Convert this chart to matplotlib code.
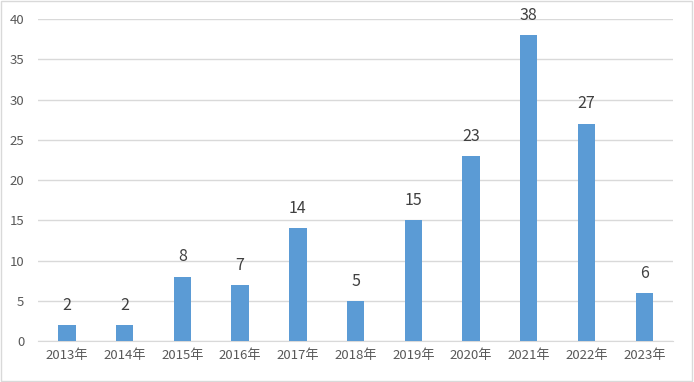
import matplotlib
matplotlib.use("Agg")
import matplotlib.pyplot as plt
from matplotlib.patches import Rectangle

plt.rcParams['font.family'] = ['Noto Sans CJK SC', 'DejaVu Sans']

years = ['2013年', '2014年', '2015年', '2016年', '2017年', '2018年',
         '2019年', '2020年', '2021年', '2022年', '2023年']
counts = [2, 2, 8, 7, 14, 5, 15, 23, 38, 27, 6]

fig = plt.figure(figsize=(6.94, 3.82), dpi=100)
ax = fig.add_axes([0.0548, 0.107, 0.9152, 0.843])

x = range(len(years))
bars = ax.bar(x, counts, width=0.3, color='#5B9BD5', zorder=3)
for xi, v in zip(x, counts):
    ax.text(xi, v + 1.4, str(v), ha='center', va='bottom',
            fontsize=11.5, color='#404040')

ax.set_xlim(-0.5, len(years) - 0.5)
ax.set_ylim(0, 40)
ax.set_yticks(range(0, 41, 5))
ax.set_xticks(list(x))
ax.set_xticklabels(years)
ax.tick_params(axis='both', length=0, labelsize=9.5, colors='#595959')
ax.tick_params(axis='x', pad=6)
ax.tick_params(axis='y', pad=10)
ax.grid(axis='y', color='#D9D9D9', linewidth=1, zorder=0)
for s in ['top', 'right', 'left']:
    ax.spines[s].set_visible(False)
ax.spines['bottom'].set_color('#D9D9D9')

fig.patches.append(Rectangle((0.002, 0.003), 0.995, 0.994, transform=fig.transFigure,
                             fill=False, edgecolor='#D9D9D9', linewidth=1))

fig.savefig('out.png', dpi=100)
